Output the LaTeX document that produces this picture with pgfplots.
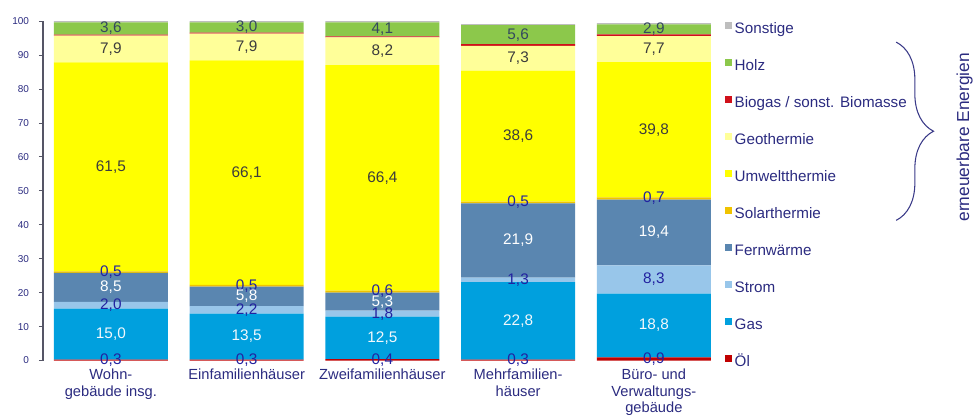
\documentclass[border=0pt]{standalone}
\usepackage{pgfplots}
\pgfplotsset{compat=1.18}
\usepackage{pgfplotstable}
\usepackage{fontspec}
\setmainfont{Liberation Sans}
\usetikzlibrary{decorations.pathreplacing}

\definecolor{cOel}{HTML}{C00000}
\definecolor{cGas}{HTML}{00A0DE}
\definecolor{cStrom}{HTML}{98C6EA}
\definecolor{cFern}{HTML}{5A86B0}
\definecolor{cSolar}{HTML}{F0C300}
\definecolor{cUmwelt}{HTML}{FFFF00}
\definecolor{cGeo}{HTML}{FFFF99}
\definecolor{cBio}{HTML}{D0101A}
\definecolor{cHolz}{HTML}{8CC84B}
\definecolor{cSonst}{HTML}{BEBEBE}
\definecolor{navy}{HTML}{2B2B80}
\definecolor{bracecol}{HTML}{3A3A88}
\definecolor{axisgray}{HTML}{555566}
\definecolor{lblblue}{HTML}{2222A0}
\definecolor{lblwhite}{HTML}{F2F8FC}
\definecolor{lblgray}{HTML}{3C3C3C}
\definecolor{lblslate}{HTML}{34495E}

\pgfplotstableread{
x Oel Gas Strom Fern Solar Umwelt Geo Bio Holz Sonst
0 0.3 15.0 2.0 8.5 0.5 61.5 7.9 0.3 3.6 0.4
1 0.3 13.5 2.2 5.8 0.5 66.1 7.9 0.3 3.0 0.4
2 0.4 12.5 1.8 5.3 0.6 66.4 8.2 0.3 4.1 0.4
3 0.3 22.8 1.3 21.9 0.5 38.6 7.3 0.5 5.6 0.3
4 0.9 18.8 8.3 19.4 0.7 39.8 7.7 0.5 2.9 0.4
}\datatable

\newcommand\vfont{\fontsize{11.5}{13}\selectfont}

\pgfplotsset{
  vlabel/.style 2 args={
    nodes near coords={\pgfmathprintnumber[use comma,fixed,fixed zerofill,precision=1]{\pgfplotspointmeta}},
    point meta=\thisrow{#1},
    every node near coord/.style={anchor=center, text=#2, font=\vfont, inner sep=0pt},
  },
}

\begin{document}
\begin{tikzpicture}
\useasboundingbox (-32.25pt,-40.9pt) rectangle (697.5pt,270.4pt);
\begin{axis}[
  at={(0pt,0pt)}, anchor=south west,
  scale only axis, width=509.06pt, height=254.6pt,
  ybar stacked, bar width=85.5pt,
  xmin=-0.5, xmax=4.5, ymin=0, ymax=100,
  clip=false,
  axis y line*=left, axis x line*=bottom,
  x axis line style={draw=none},
  y axis line style={draw=axisgray, line width=0.8pt},
  xtick={0,1,2,3,4},
  xticklabels={{Wohn-\\gebäude insg.},{Einfamilienhäuser},{Zweifamilienhäuser},{Mehrfamilien-\\häuser},{Büro- und\\Verwaltungs-\\gebäude}},
  xtick style={draw=none},
  xticklabel style={align=center, text=navy, font=\fontsize{11}{12.4}\selectfont, yshift=0pt},
  ytick={0,10,...,100},
  ytick style={draw=axisgray, line width=0.6pt},
  tick align=outside, major tick length=3pt,
  yticklabel style={text=navy, font=\fontsize{7.5}{9}\selectfont, xshift=-4pt},
  /pgf/number format/assume math mode=true,
  legend style={at={(0.999,1.006)}, anchor=north west, draw=none, fill=none,
    font=\fontsize{11.4}{13.5}\selectfont, text=navy, row sep=16.5pt,
    nodes={inner sep=0pt, text height=8.7pt, text depth=2.3pt},
    /tikz/every odd column/.append style={column sep=1.8pt}},
  legend cell align=left, reverse legend,
  legend image code/.code={\fill[#1] (0pt,0.5pt) rectangle (5.25pt,5.75pt);},
]
\addplot[fill=cOel, draw=none, vlabel={Oel}{lblblue}] table[x=x,y=Oel]{\datatable};
\addlegendentry{Öl}
\addplot[fill=cGas, draw=none, vlabel={Gas}{lblwhite}] table[x=x,y=Gas]{\datatable};
\addlegendentry{Gas}
\addplot[fill=cStrom, draw=none, vlabel={Strom}{lblblue}] table[x=x,y=Strom]{\datatable};
\addlegendentry{Strom}
\addplot[fill=cFern, draw=none, vlabel={Fern}{white}] table[x=x,y=Fern]{\datatable};
\addlegendentry{Fernwärme}
\addplot[fill=cSolar, draw=none, vlabel={Solar}{lblblue}] table[x=x,y=Solar]{\datatable};
\addlegendentry{Solarthermie}
\addplot[fill=cUmwelt, draw=none, vlabel={Umwelt}{lblgray}] table[x=x,y=Umwelt]{\datatable};
\addlegendentry{Umweltthermie}
\addplot[fill=cGeo, draw=none, vlabel={Geo}{lblgray}] table[x=x,y=Geo]{\datatable};
\addlegendentry{Geothermie}
\addplot[fill=cBio, draw=none] table[x=x,y=Bio]{\datatable};
\addlegendentry{Biogas / sonst. Biomasse}
\addplot[fill=cHolz, draw=none, vlabel={Holz}{lblslate}] table[x=x,y=Holz]{\datatable};
\addlegendentry{Holz}
\addplot[fill=cSonst, draw=none] table[x=x,y=Sonst]{\datatable};
\addlegendentry{Sonstige}

\draw[bracecol, line width=0.8pt, decorate, decoration={brace, amplitude=28pt}]
  (axis description cs:1.257,0.938) -- (axis description cs:1.257,0.413);
\node[rotate=90, font=\fontsize{13}{15}\selectfont, text=navy]
  at (axis description cs:1.358,0.658) {erneuerbare Energien};
\end{axis}
\end{tikzpicture}
\end{document}
